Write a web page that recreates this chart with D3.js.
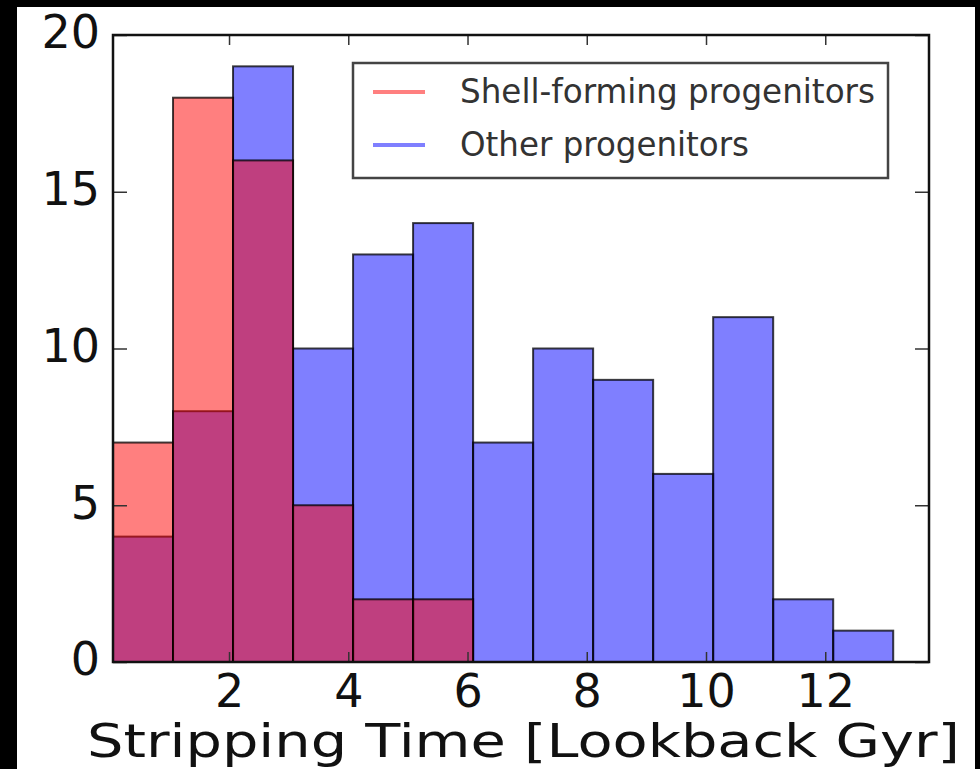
<!DOCTYPE html>
<html>
<head>
<meta charset="utf-8">
<script src="https://cdn.jsdelivr.net/npm/d3@7"></script>
<style>
  body { margin: 0; background: #000; }
  svg { display: block; }
  text { font-family: "DejaVu Sans", sans-serif; }
</style>
</head>
<body>
<svg id="chart"></svg>
<script>
// histogram counts per bin (13 bins of equal width)
var binStart = 0.054;
var binWidth = 1.0066;
var shellCounts = [7, 18, 16, 5, 2, 2, 0, 0, 0, 0, 0, 0, 0];
var otherCounts = [4, 8, 19, 10, 13, 14, 7, 10, 9, 6, 11, 2, 1];
var xTicks = [2, 4, 6, 8, 10, 12];
var yTicks = [0, 5, 10, 15, 20];
var legendNames = ["Shell-forming progenitors", "Other progenitors"];

var width = 980;
var height = 769;
var margin = {top: 35, bottom: 107, left: 113, right: 51};

var svg = d3.select('#chart')
    .attr('width', width)
    .attr('height', height);

// white page on black frame
svg.append("rect")
    .attr("x", 17).attr("y", 7)
    .attr("width", width - 17 - 5).attr("height", height - 7)
    .attr("fill", "#fff");

var xScale = d3.scaleLinear()
    .domain([0.054, 13.74])
    .range([margin.left, width - margin.right]);

var yScale = d3.scaleLinear()
    .domain([0, 20])
    .range([height - margin.bottom, margin.top]);

function makeBins(counts) {
    return counts.map(function (c, i) {
        return {x0: binStart + i * binWidth, x1: binStart + (i + 1) * binWidth, count: c};
    }).filter(function (d) { return d.count > 0; });
}

function drawHist(counts, color) {
    svg.append("g").selectAll("rect")
        .data(makeBins(counts))
        .enter().append("rect")
        .attr("x", function (d) { return xScale(d.x0); })
        .attr("y", function (d) { return yScale(d.count); })
        .attr("width", function (d) { return xScale(d.x1) - xScale(d.x0); })
        .attr("height", function (d) { return yScale(0) - yScale(d.count); })
        .attr("fill", color)
        .attr("fill-opacity", 0.5)
        .attr("stroke", "#000")
        .attr("stroke-opacity", 0.75)
        .attr("stroke-width", 2);
}

drawHist(otherCounts, "#0000ff");
drawHist(shellCounts, "#ff0000");

// axes, ticks pointing inward on all four sides
var y0 = yScale(0);
var gBottom = svg.append("g")
    .attr("transform", "translate(0," + y0 + ")")
    .call(d3.axisBottom(xScale).tickValues(xTicks).tickSizeInner(-10).tickSizeOuter(0).tickPadding(12));
var gTop = svg.append("g")
    .attr("transform", "translate(0," + margin.top + ")")
    .call(d3.axisTop(xScale).tickValues(xTicks).tickSizeInner(-10).tickSizeOuter(0).tickFormat(""));
var gLeft = svg.append("g")
    .attr("transform", "translate(" + margin.left + ",0)")
    .call(d3.axisLeft(yScale).tickValues(yTicks).tickSizeInner(-14).tickSizeOuter(0).tickPadding(13));
var gRight = svg.append("g")
    .attr("transform", "translate(" + (width - margin.right) + ",0)")
    .call(d3.axisRight(yScale).tickValues(yTicks).tickSizeInner(-14).tickSizeOuter(0).tickFormat(""));

[gBottom, gTop, gLeft, gRight].forEach(function (g) {
    g.select(".domain").remove();
    g.selectAll(".tick line").attr("stroke", "#333").attr("stroke-width", 1.5);
    g.selectAll("text")
        .style("font-size", "46px")
        .attr("fill", "#111");
});
gLeft.selectAll("text").attr("dy", "0.28em");

// frame
svg.append("rect")
    .attr("x", margin.left).attr("y", margin.top)
    .attr("width", width - margin.right - margin.left)
    .attr("height", y0 - margin.top)
    .attr("fill", "none")
    .attr("stroke", "#111")
    .attr("stroke-width", 2.5);

// x label
svg.append("text")
    .attr("x", 523.5).attr("y", 757)
    .attr("text-anchor", "middle")
    .attr("textLength", 873)
    .attr("lengthAdjust", "spacingAndGlyphs")
    .style("font-size", "47px")
    .attr("fill", "#111")
    .text("Stripping Time [Lookback Gyr]");

// legend
var legend = svg.append("g");
legend.append("rect")
    .attr("x", 353).attr("y", 63)
    .attr("width", 535).attr("height", 115)
    .attr("fill", "#fff")
    .attr("stroke", "#444")
    .attr("stroke-width", 2.5);

var legendColors = ["#ff0000", "#0000ff"];
var legendY = [92, 145];
var legendLen = [415, 289];
legendNames.forEach(function (name, i) {
    legend.append("line")
        .attr("x1", 373).attr("x2", 425)
        .attr("y1", legendY[i]).attr("y2", legendY[i])
        .attr("stroke", legendColors[i])
        .attr("stroke-opacity", 0.5)
        .attr("stroke-width", 4);
    legend.append("text")
        .attr("x", 460).attr("y", legendY[i] + 11)
        .attr("textLength", legendLen[i])
        .attr("lengthAdjust", "spacingAndGlyphs")
        .style("font-size", "34px")
        .attr("fill", "#333")
        .text(name);
});
</script>
</body>
</html>
